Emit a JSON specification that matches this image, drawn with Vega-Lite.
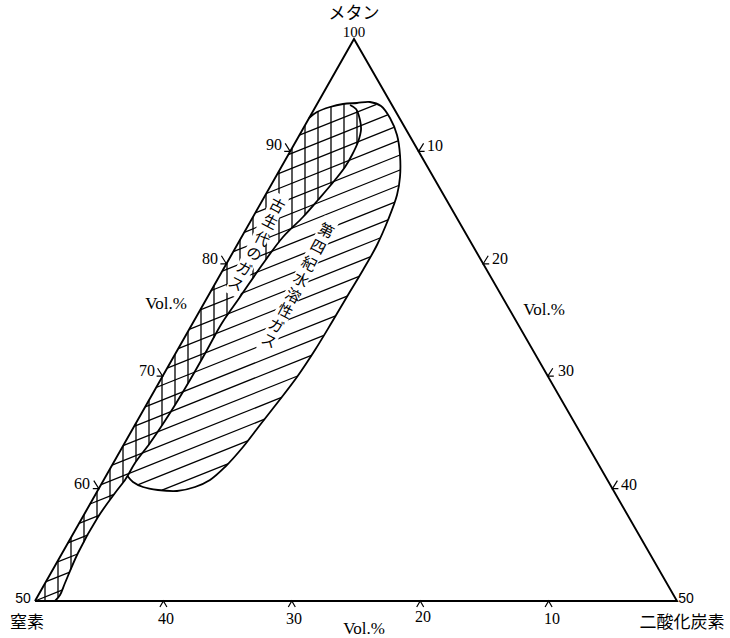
{
  "$schema": "https://vega.github.io/schema/vega-lite/v6.json",
  "width": 730,
  "height": 638,
  "padding": 0,
  "autosize": {"type": "none"},
  "background": "white",
  "config": {"view": {"stroke": null}},
  "datasets": {
    "tri": [
      {"i": 0, "x": 35, "y": 601},
      {"i": 1, "x": 354, "y": 39},
      {"i": 2, "x": 677, "y": 601},
      {"i": 3, "x": 35, "y": 601}
    ],
    "outline": [
      {"g": "Q", "i": 0, "x": 309, "y": 118},
      {"g": "Q", "i": 1, "x": 317, "y": 112},
      {"g": "Q", "i": 2, "x": 330, "y": 107},
      {"g": "Q", "i": 3, "x": 343, "y": 104},
      {"g": "Q", "i": 4, "x": 357, "y": 103},
      {"g": "Q", "i": 5, "x": 370, "y": 102},
      {"g": "Q", "i": 6, "x": 381, "y": 106},
      {"g": "Q", "i": 7, "x": 390, "y": 118},
      {"g": "Q", "i": 8, "x": 397, "y": 135},
      {"g": "Q", "i": 9, "x": 400, "y": 155},
      {"g": "Q", "i": 10, "x": 400, "y": 177},
      {"g": "Q", "i": 11, "x": 397, "y": 195},
      {"g": "Q", "i": 12, "x": 388, "y": 220},
      {"g": "Q", "i": 13, "x": 377, "y": 245},
      {"g": "Q", "i": 14, "x": 363, "y": 270},
      {"g": "Q", "i": 15, "x": 348, "y": 295},
      {"g": "Q", "i": 16, "x": 332, "y": 322},
      {"g": "Q", "i": 17, "x": 315, "y": 350},
      {"g": "Q", "i": 18, "x": 297, "y": 377},
      {"g": "Q", "i": 19, "x": 278, "y": 402},
      {"g": "Q", "i": 20, "x": 260, "y": 425},
      {"g": "Q", "i": 21, "x": 243, "y": 447},
      {"g": "Q", "i": 22, "x": 225, "y": 467},
      {"g": "Q", "i": 23, "x": 210, "y": 480},
      {"g": "Q", "i": 24, "x": 195, "y": 487},
      {"g": "Q", "i": 25, "x": 177, "y": 491},
      {"g": "Q", "i": 26, "x": 158, "y": 490},
      {"g": "Q", "i": 27, "x": 143, "y": 487},
      {"g": "Q", "i": 28, "x": 133, "y": 482},
      {"g": "Q", "i": 29, "x": 127.5, "y": 476},
      {"g": "P", "i": 0, "x": 350, "y": 105},
      {"g": "P", "i": 1, "x": 356, "y": 109},
      {"g": "P", "i": 2, "x": 360, "y": 120},
      {"g": "P", "i": 3, "x": 361, "y": 130},
      {"g": "P", "i": 4, "x": 358, "y": 142},
      {"g": "P", "i": 5, "x": 352, "y": 155},
      {"g": "P", "i": 6, "x": 345, "y": 167},
      {"g": "P", "i": 7, "x": 335, "y": 180},
      {"g": "P", "i": 8, "x": 318, "y": 200},
      {"g": "P", "i": 9, "x": 303, "y": 217},
      {"g": "P", "i": 10, "x": 283, "y": 237},
      {"g": "P", "i": 11, "x": 262, "y": 265},
      {"g": "P", "i": 12, "x": 240, "y": 297},
      {"g": "P", "i": 13, "x": 222, "y": 323},
      {"g": "P", "i": 14, "x": 207, "y": 350},
      {"g": "P", "i": 15, "x": 190, "y": 380},
      {"g": "P", "i": 16, "x": 170, "y": 413},
      {"g": "P", "i": 17, "x": 150, "y": 443},
      {"g": "P", "i": 18, "x": 135, "y": 463},
      {"g": "P", "i": 19, "x": 127.5, "y": 476},
      {"g": "P", "i": 20, "x": 125, "y": 480},
      {"g": "P", "i": 21, "x": 115, "y": 493},
      {"g": "P", "i": 22, "x": 98, "y": 517},
      {"g": "P", "i": 23, "x": 78, "y": 553},
      {"g": "P", "i": 24, "x": 65, "y": 583},
      {"g": "P", "i": 25, "x": 60, "y": 595},
      {"g": "P", "i": 26, "x": 55, "y": 601}
    ],
    "hatch": [
      {"x": 299.4, "y": 135.2, "x2": 376.5, "y2": 104.4},
      {"x": 288.4, "y": 154.6, "x2": 387.7, "y2": 114.9},
      {"x": 277.3, "y": 174.1, "x2": 393.9, "y2": 127.4},
      {"x": 266.3, "y": 193.5, "x2": 397.9, "y2": 140.8},
      {"x": 255.3, "y": 212.9, "x2": 400, "y2": 155},
      {"x": 244.3, "y": 232.3, "x2": 400, "y2": 170},
      {"x": 233.3, "y": 251.7, "x2": 398.6, "y2": 185.5},
      {"x": 222.3, "y": 271.1, "x2": 394.3, "y2": 202.3},
      {"x": 211.3, "y": 290.5, "x2": 388, "y2": 219.8},
      {"x": 200.3, "y": 309.9, "x2": 380, "y2": 238},
      {"x": 189.2, "y": 329.3, "x2": 370.2, "y2": 256.9},
      {"x": 178.2, "y": 348.7, "x2": 359.1, "y2": 276.4},
      {"x": 167.2, "y": 368.1, "x2": 347.2, "y2": 296.1},
      {"x": 156.2, "y": 387.5, "x2": 335.6, "y2": 315.8},
      {"x": 145.2, "y": 406.9, "x2": 323.9, "y2": 335.4},
      {"x": 134.1, "y": 426.3, "x2": 311.4, "y2": 355.4},
      {"x": 123.1, "y": 445.7, "x2": 297.6, "y2": 376},
      {"x": 112.1, "y": 465.2, "x2": 281.6, "y2": 397.4},
      {"x": 101.1, "y": 484.6, "x2": 264.6, "y2": 419.2},
      {"x": 90, "y": 504, "x2": 114, "y2": 494.4},
      {"x": 138.3, "y": 484.7, "x2": 247.7, "y2": 440.9},
      {"x": 79.1, "y": 523.4, "x2": 99.1, "y2": 515.4},
      {"x": 162, "y": 490.2, "x2": 227.9, "y2": 463.8},
      {"x": 68, "y": 542.8, "x2": 88.1, "y2": 534.8},
      {"x": 57, "y": 562.2, "x2": 77.6, "y2": 554},
      {"x": 46, "y": 581.6, "x2": 69.8, "y2": 572.1},
      {"x": 35, "y": 601, "x2": 62, "y2": 590.2},
      {"x": 45, "y": 583.4, "x2": 45, "y2": 601},
      {"x": 58, "y": 560.5, "x2": 58, "y2": 597.4},
      {"x": 71, "y": 537.6, "x2": 71, "y2": 569.2},
      {"x": 84, "y": 514.7, "x2": 84, "y2": 542.2},
      {"x": 97, "y": 491.8, "x2": 97, "y2": 518.8},
      {"x": 110, "y": 468.9, "x2": 110, "y2": 500.1},
      {"x": 123, "y": 446, "x2": 123, "y2": 482.6},
      {"x": 136, "y": 423.1, "x2": 136, "y2": 461.7},
      {"x": 149, "y": 400.2, "x2": 149, "y2": 444.3},
      {"x": 162, "y": 377.3, "x2": 162, "y2": 425},
      {"x": 175, "y": 354.3, "x2": 175, "y2": 404.8},
      {"x": 188, "y": 331.4, "x2": 188, "y2": 383.3},
      {"x": 201, "y": 308.5, "x2": 201, "y2": 360.6},
      {"x": 214, "y": 285.6, "x2": 214, "y2": 337.4},
      {"x": 227, "y": 262.7, "x2": 227, "y2": 315.8},
      {"x": 240, "y": 239.8, "x2": 240, "y2": 297},
      {"x": 253, "y": 216.9, "x2": 253, "y2": 278.1},
      {"x": 266, "y": 194, "x2": 266, "y2": 259.7},
      {"x": 279, "y": 171.1, "x2": 279, "y2": 242.3},
      {"x": 292, "y": 148.2, "x2": 292, "y2": 228},
      {"x": 305, "y": 125.3, "x2": 305, "y2": 214.7},
      {"x": 318, "y": 112, "x2": 318, "y2": 200},
      {"x": 331, "y": 106.6, "x2": 331, "y2": 184.7},
      {"x": 344, "y": 104, "x2": 344, "y2": 168.3},
      {"x": 357, "y": 111, "x2": 357, "y2": 144.2}
    ],
    "bands": [
      {"x": 282, "y": 195, "x2": 231, "y2": 295},
      {"x": 332, "y": 219, "x2": 263, "y2": 351}
    ],
    "ticks": [
      {"g": "L60", "i": 0, "x": 93.8, "y": 480.6},
      {"g": "L60", "i": 1, "x": 98.8, "y": 488.6},
      {"g": "L60", "i": 2, "x": 92.8, "y": 488.6},
      {"g": "L70", "i": 0, "x": 157.6, "y": 368.2},
      {"g": "L70", "i": 1, "x": 162.6, "y": 376.2},
      {"g": "L70", "i": 2, "x": 156.6, "y": 376.2},
      {"g": "L80", "i": 0, "x": 221.4, "y": 255.8},
      {"g": "L80", "i": 1, "x": 226.4, "y": 263.8},
      {"g": "L80", "i": 2, "x": 220.4, "y": 263.8},
      {"g": "L90", "i": 0, "x": 285.2, "y": 143.4},
      {"g": "L90", "i": 1, "x": 290.2, "y": 151.4},
      {"g": "L90", "i": 2, "x": 284.2, "y": 151.4},
      {"g": "R10", "i": 0, "x": 423.6, "y": 143.4},
      {"g": "R10", "i": 1, "x": 418.6, "y": 151.4},
      {"g": "R10", "i": 2, "x": 424.6, "y": 151.4},
      {"g": "R20", "i": 0, "x": 488.2, "y": 255.8},
      {"g": "R20", "i": 1, "x": 483.2, "y": 263.8},
      {"g": "R20", "i": 2, "x": 489.2, "y": 263.8},
      {"g": "R30", "i": 0, "x": 552.8, "y": 368.2},
      {"g": "R30", "i": 1, "x": 547.8, "y": 376.2},
      {"g": "R30", "i": 2, "x": 553.8, "y": 376.2},
      {"g": "R40", "i": 0, "x": 617.4, "y": 480.6},
      {"g": "R40", "i": 1, "x": 612.4, "y": 488.6},
      {"g": "R40", "i": 2, "x": 618.4, "y": 488.6},
      {"g": "B40", "i": 0, "x": 159.9, "y": 607},
      {"g": "B40", "i": 1, "x": 163.4, "y": 601},
      {"g": "B40", "i": 2, "x": 166.9, "y": 607},
      {"g": "B30", "i": 0, "x": 288.3, "y": 607},
      {"g": "B30", "i": 1, "x": 291.8, "y": 601},
      {"g": "B30", "i": 2, "x": 295.3, "y": 607},
      {"g": "B20", "i": 0, "x": 416.7, "y": 607},
      {"g": "B20", "i": 1, "x": 420.2, "y": 601},
      {"g": "B20", "i": 2, "x": 423.7, "y": 607},
      {"g": "B10", "i": 0, "x": 545.1, "y": 607},
      {"g": "B10", "i": 1, "x": 548.6, "y": 601},
      {"g": "B10", "i": 2, "x": 552.1, "y": 607}
    ],
    "labels": [
      {"kind": "num", "text": "90", "x": 274, "y": 145},
      {"kind": "num", "text": "80", "x": 210, "y": 259},
      {"kind": "num", "text": "70", "x": 147, "y": 371},
      {"kind": "num", "text": "60", "x": 82, "y": 484},
      {"kind": "num", "text": "10", "x": 435, "y": 146},
      {"kind": "num", "text": "20", "x": 500, "y": 259},
      {"kind": "num", "text": "30", "x": 566, "y": 371},
      {"kind": "num", "text": "40", "x": 629, "y": 485},
      {"kind": "num", "text": "40", "x": 166, "y": 619},
      {"kind": "num", "text": "30", "x": 294, "y": 619},
      {"kind": "num", "text": "20", "x": 423, "y": 617},
      {"kind": "num", "text": "10", "x": 552, "y": 619},
      {"kind": "top", "text": "100", "x": 354, "y": 32},
      {"kind": "end", "text": "50", "x": 23, "y": 599},
      {"kind": "end", "text": "50", "x": 686, "y": 599},
      {"kind": "name", "text": "メタン", "x": 354, "y": 14},
      {"kind": "name", "text": "窒素", "x": 27, "y": 623},
      {"kind": "name", "text": "二酸化炭素", "x": 682, "y": 623},
      {"kind": "vol", "text": "Vol.%", "x": 166, "y": 304},
      {"kind": "vol", "text": "Vol.%", "x": 544, "y": 310},
      {"kind": "vol", "text": "Vol.%", "x": 364, "y": 629},
      {"kind": "char", "text": "古", "x": 277, "y": 206},
      {"kind": "char", "text": "生", "x": 270, "y": 222},
      {"kind": "char", "text": "代", "x": 262, "y": 239},
      {"kind": "char", "text": "の", "x": 254, "y": 254},
      {"kind": "char", "text": "ガ", "x": 244, "y": 269},
      {"kind": "char", "text": "ス", "x": 236, "y": 284},
      {"kind": "char", "text": "第", "x": 326, "y": 231},
      {"kind": "char", "text": "四", "x": 318, "y": 247},
      {"kind": "char", "text": "紀", "x": 309, "y": 264},
      {"kind": "char", "text": "水", "x": 301, "y": 280},
      {"kind": "char", "text": "溶", "x": 293, "y": 296},
      {"kind": "char", "text": "性", "x": 285, "y": 311},
      {"kind": "char", "text": "ガ", "x": 276, "y": 326},
      {"kind": "char", "text": "ス", "x": 269, "y": 341}
    ]
  },
  "encoding": {
    "x": {"field": "x", "type": "quantitative", "scale": {"domain": [0, 730], "nice": false, "zero": false}, "axis": null},
    "y": {"field": "y", "type": "quantitative", "scale": {"domain": [0, 638], "reverse": true, "nice": false, "zero": false}, "axis": null}
  },
  "layer": [
    {
      "data": {"name": "hatch"},
      "mark": {"type": "rule", "color": "black", "strokeWidth": 1.3},
      "encoding": {"x2": {"field": "x2"}, "y2": {"field": "y2"}}
    },
    {
      "data": {"name": "bands"},
      "mark": {"type": "rule", "color": "white", "strokeWidth": 16, "strokeCap": "butt"},
      "encoding": {"x2": {"field": "x2"}, "y2": {"field": "y2"}}
    },
    {
      "data": {"name": "outline"},
      "mark": {"type": "line", "color": "black", "strokeWidth": 1.8, "interpolate": "catmull-rom"},
      "encoding": {"detail": {"field": "g"}, "order": {"field": "i", "type": "quantitative"}}
    },
    {
      "data": {"name": "tri"},
      "mark": {"type": "line", "color": "black", "strokeWidth": 1.9},
      "encoding": {"order": {"field": "i", "type": "quantitative"}}
    },
    {
      "data": {"name": "ticks"},
      "mark": {"type": "line", "color": "black", "strokeWidth": 1.2},
      "encoding": {"detail": {"field": "g"}, "order": {"field": "i", "type": "quantitative"}}
    },
    {
      "data": {"name": "labels"},
      "transform": [{"filter": "datum.kind === 'num'"}],
      "mark": {"type": "text", "font": "Liberation Serif", "fontSize": 16, "baseline": "middle", "color": "black"},
      "encoding": {"text": {"field": "text"}}
    },
    {
      "data": {"name": "labels"},
      "transform": [{"filter": "datum.kind === 'top'"}],
      "mark": {"type": "text", "font": "Liberation Serif", "fontSize": 15, "baseline": "middle", "color": "black"},
      "encoding": {"text": {"field": "text"}}
    },
    {
      "data": {"name": "labels"},
      "transform": [{"filter": "datum.kind === 'end'"}],
      "mark": {"type": "text", "font": "Liberation Sans", "fontSize": 14, "baseline": "middle", "color": "black"},
      "encoding": {"text": {"field": "text"}}
    },
    {
      "data": {"name": "labels"},
      "transform": [{"filter": "datum.kind === 'name'"}],
      "mark": {"type": "text", "font": "Noto Sans CJK JP", "fontSize": 17, "baseline": "middle", "color": "black"},
      "encoding": {"text": {"field": "text"}}
    },
    {
      "data": {"name": "labels"},
      "transform": [{"filter": "datum.kind === 'vol'"}],
      "mark": {"type": "text", "font": "Liberation Serif", "fontSize": 17, "baseline": "middle", "color": "black"},
      "encoding": {"text": {"field": "text"}}
    },
    {
      "data": {"name": "labels"},
      "transform": [{"filter": "datum.kind === 'char'"}],
      "mark": {"type": "text", "font": "Noto Sans CJK JP", "fontSize": 15, "baseline": "middle", "color": "black", "angle": 27.5},
      "encoding": {"text": {"field": "text"}}
    }
  ]
}
